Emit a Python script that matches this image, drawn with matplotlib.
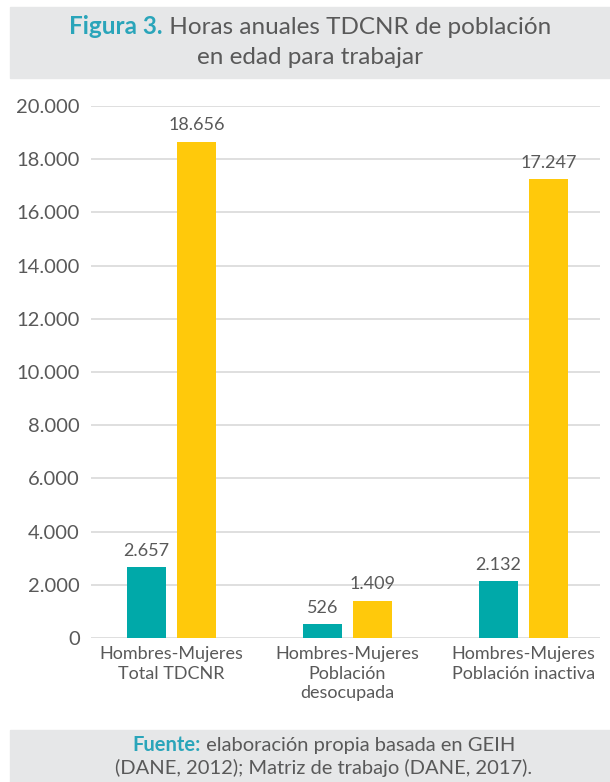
import numpy as np
import matplotlib
matplotlib.use('Agg')
import matplotlib.pyplot as plt
from matplotlib.patches import Rectangle

plt.rcParams['font.family'] = ['Lato', 'DejaVu Sans']

# Chart data
categories = ['Hombres-Mujeres\nTotal TDCNR',
              'Hombres-Mujeres\nPoblación\ndesocupada',
              'Hombres-Mujeres\nPoblación inactiva']
hombres = [2657, 526, 2132]
mujeres = [18656, 1409, 17247]
yticks = [0, 2000, 4000, 6000, 8000, 10000, 12000, 14000, 16000, 18000, 20000]

TEAL = '#00A9A9'
YELLOW = '#FFC90B'
TEXT = '#595959'
BAND = '#E6E7E8'
TITLE_TEAL = '#2AA5BA'


def fmt(v):
    return f'{v:,}'.replace(',', '.')


fig = plt.figure(figsize=(6.1, 7.82), dpi=100)
W, H = 610, 782

# header and footer bands
fig.patches.append(Rectangle((10 / W, 1 - 78 / H), 600 / W, 71 / H,
                             transform=fig.transFigure, color=BAND, zorder=0))
fig.patches.append(Rectangle((10 / W, 0), 600 / W, 52 / H,
                             transform=fig.transFigure, color=BAND, zorder=0))

ax = fig.add_axes([91 / W, 1 - 638 / H, 509 / W, 532 / H])
x = np.arange(len(categories))
off = 0.142
bw = 0.222
ax.bar(x - off, hombres, bw, color=TEAL, zorder=2)
ax.bar(x + off, mujeres, bw, color=YELLOW, zorder=2)

for xi, v in zip(x - off, hombres):
    ax.annotate(fmt(v), (xi, v), xytext=(0, 6), textcoords='offset points',
                ha='center', va='bottom', fontsize=13, color=TEXT)
for xi, v in zip(x + off, mujeres):
    ax.annotate(fmt(v), (xi, v), xytext=(0, 6), textcoords='offset points',
                ha='center', va='bottom', fontsize=13, color=TEXT)

ax.set_xlim(-0.457, 2.435)
ax.set_ylim(0, 20000)
ax.set_yticks(yticks)
ax.set_yticklabels([fmt(t) for t in yticks], fontsize=14.5, color=TEXT)
ax.set_xticks(x)
ax.set_xticklabels(categories, fontsize=13, color=TEXT, linespacing=1.25)
ax.tick_params(length=0, pad=8)
ax.tick_params(axis='x', pad=6)
ax.grid(axis='y', color='#D9D9D9', linewidth=1.2, zorder=0)
for s in ax.spines.values():
    s.set_visible(False)


def two_part_line(y, bold, rest, size, bold_color, rest_color, cx=0.5):
    r = fig.canvas.get_renderer()
    t1 = fig.text(0, y, bold, fontsize=size, fontweight='bold',
                  color=bold_color, va='center', ha='left')
    t2 = fig.text(0, y, rest, fontsize=size, color=rest_color,
                  va='center', ha='left')
    w1 = t1.get_window_extent(r).width / (W)
    w2 = t2.get_window_extent(r).width / (W)
    x0 = cx - (w1 + w2) / 2
    t1.set_x(x0)
    t2.set_x(x0 + w1)


two_part_line(1 - 27 / H, 'Figura 3.', ' Horas anuales TDCNR de población',
              17.5, TITLE_TEAL, TEXT, cx=310 / W)
fig.text(310 / W, 1 - 58 / H, 'en edad para trabajar', fontsize=17.5,
         color=TEXT, ha='center', va='center')

two_part_line(1 - 745 / H, 'Fuente:', ' elaboración propia basada en GEIH',
              14.5, TITLE_TEAL, TEXT, cx=324 / W)
fig.text(324 / W, 1 - 768 / H, '(DANE, 2012); Matriz de trabajo (DANE, 2017).',
         fontsize=14.5, color=TEXT, ha='center', va='center')

fig.savefig('out.png', dpi=100)
